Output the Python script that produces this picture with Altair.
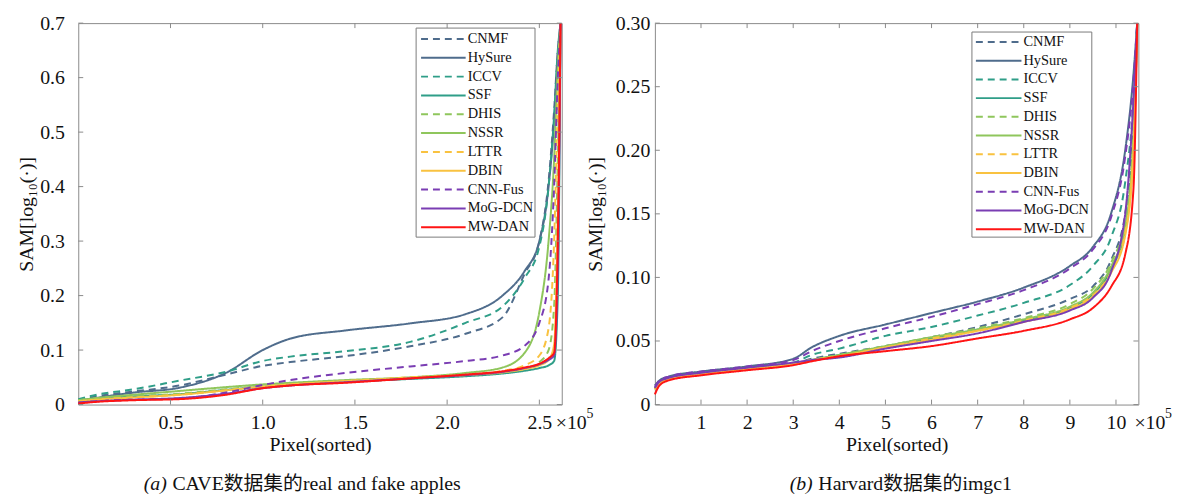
import altair as alt
import pandas as pd

METHODS = ["CNMF", "HySure", "ICCV", "SSF", "DHIS", "NSSR", "LTTR", "DBIN", "CNN-Fus", "MoG-DCN", "MW-DAN"]
COLORS = ["#4f6c8c", "#4f6c8c", "#2f9e88", "#2f9e88", "#8fc65c", "#8fc65c",
          "#f9c240", "#f9c240", "#7a3db3", "#7a3db3", "#ff1414"]
DASHES = [[7, 5], [1, 0], [7, 5], [1, 0], [7, 5], [1, 0], [7, 5], [1, 0], [7, 5], [1, 0], [1, 0]]
WIDTHS = [2, 2, 2, 2, 2, 2, 2, 2, 2, 2, 3]

# ---- panel (a): CAVE, x in units of 1e5 pixels ----
X_A = [0, 0.1, 0.3, 0.55, 0.8, 1.0, 1.15, 1.45, 1.8, 2.1, 2.3, 2.42, 2.5, 2.55, 2.58, 2.6, 2.615]
A_VALUES = {
    "CNMF":    [0.008, 0.015, 0.024, 0.035, 0.055, 0.071, 0.078, 0.089, 0.107, 0.130, 0.160, 0.240, 0.300, 0.410, 0.540, 0.650, 0.700],
    "HySure":  [0.005, 0.012, 0.022, 0.031, 0.058, 0.100, 0.121, 0.136, 0.149, 0.166, 0.200, 0.245, 0.300, 0.400, 0.520, 0.640, 0.700],
    "ICCV":    [0.010, 0.018, 0.028, 0.044, 0.060, 0.080, 0.088, 0.098, 0.115, 0.150, 0.180, 0.232, 0.290, 0.400, 0.530, 0.650, 0.700],
    "SSF":     [0.008, 0.011, 0.015, 0.019, 0.027, 0.033, 0.037, 0.042, 0.047, 0.052, 0.057, 0.062, 0.067, 0.072, 0.080, 0.200, 0.700],
    "DHIS":    [0.008, 0.011, 0.015, 0.020, 0.028, 0.034, 0.038, 0.043, 0.049, 0.054, 0.060, 0.066, 0.078, 0.100, 0.180, 0.450, 0.700],
    "NSSR":    [0.008, 0.012, 0.018, 0.025, 0.032, 0.037, 0.040, 0.045, 0.050, 0.058, 0.068, 0.095, 0.170, 0.300, 0.450, 0.620, 0.700],
    "LTTR":    [0.006, 0.009, 0.013, 0.018, 0.026, 0.033, 0.037, 0.043, 0.050, 0.055, 0.062, 0.072, 0.090, 0.140, 0.300, 0.550, 0.700],
    "DBIN":    [0.006, 0.009, 0.013, 0.018, 0.026, 0.033, 0.037, 0.043, 0.049, 0.054, 0.059, 0.065, 0.072, 0.082, 0.110, 0.350, 0.700],
    "CNN-Fus": [0.003, 0.006, 0.009, 0.011, 0.022, 0.036, 0.045, 0.058, 0.070, 0.080, 0.090, 0.108, 0.150, 0.230, 0.400, 0.600, 0.700],
    "MoG-DCN": [0.004, 0.006, 0.009, 0.012, 0.020, 0.030, 0.035, 0.041, 0.048, 0.054, 0.060, 0.067, 0.074, 0.082, 0.090, 0.250, 0.700],
    "MW-DAN":  [0.002, 0.005, 0.008, 0.010, 0.018, 0.030, 0.035, 0.040, 0.048, 0.055, 0.061, 0.068, 0.075, 0.085, 0.095, 0.300, 0.700],
}
XT_A = [0.5, 1.0, 1.5, 2.0, 2.5]
YT_A = [0, 0.1, 0.2, 0.3, 0.4, 0.5, 0.6, 0.7]

# ---- panel (b): Harvard, x in units of 1e5 pixels ----
X_B = [0, 0.1, 0.3, 1, 2, 3, 3.4, 4, 5, 6, 7, 8, 9, 9.5, 9.9, 10.2, 10.38, 10.46]
B_VALUES = {
    "CNMF":    [0.013, 0.017, 0.020, 0.024, 0.028, 0.032, 0.036, 0.040, 0.046, 0.053, 0.061, 0.071, 0.083, 0.093, 0.114, 0.150, 0.225, 0.300],
    "HySure":  [0.015, 0.019, 0.022, 0.026, 0.030, 0.036, 0.045, 0.054, 0.063, 0.072, 0.081, 0.092, 0.109, 0.124, 0.151, 0.200, 0.260, 0.300],
    "ICCV":    [0.013, 0.018, 0.021, 0.025, 0.029, 0.033, 0.039, 0.044, 0.054, 0.061, 0.070, 0.080, 0.094, 0.109, 0.132, 0.175, 0.240, 0.300],
    "SSF":     [0.012, 0.017, 0.020, 0.024, 0.028, 0.032, 0.035, 0.039, 0.045, 0.052, 0.059, 0.066, 0.076, 0.087, 0.107, 0.138, 0.205, 0.300],
    "DHIS":    [0.012, 0.017, 0.020, 0.024, 0.028, 0.032, 0.035, 0.039, 0.046, 0.053, 0.060, 0.068, 0.079, 0.091, 0.112, 0.145, 0.215, 0.300],
    "NSSR":    [0.012, 0.017, 0.020, 0.024, 0.028, 0.032, 0.035, 0.039, 0.046, 0.053, 0.059, 0.067, 0.077, 0.088, 0.109, 0.140, 0.210, 0.300],
    "LTTR":    [0.012, 0.017, 0.020, 0.024, 0.028, 0.032, 0.035, 0.038, 0.045, 0.052, 0.058, 0.066, 0.076, 0.086, 0.105, 0.135, 0.200, 0.300],
    "DBIN":    [0.012, 0.017, 0.020, 0.024, 0.028, 0.032, 0.035, 0.038, 0.045, 0.051, 0.058, 0.065, 0.075, 0.085, 0.104, 0.133, 0.200, 0.300],
    "CNN-Fus": [0.014, 0.019, 0.022, 0.026, 0.030, 0.035, 0.042, 0.050, 0.060, 0.069, 0.079, 0.090, 0.107, 0.122, 0.148, 0.195, 0.255, 0.300],
    "MoG-DCN": [0.013, 0.018, 0.021, 0.025, 0.029, 0.033, 0.035, 0.037, 0.044, 0.050, 0.056, 0.065, 0.074, 0.084, 0.105, 0.150, 0.240, 0.300],
    "MW-DAN":  [0.008, 0.015, 0.019, 0.023, 0.027, 0.031, 0.034, 0.038, 0.042, 0.046, 0.052, 0.058, 0.067, 0.076, 0.093, 0.118, 0.170, 0.300],
}
XT_B = [1, 2, 3, 4, 5, 6, 7, 8, 9, 10]
YT_B = [0, 0.05, 0.10, 0.15, 0.20, 0.25, 0.30]

W, H = 488, 385
SERIF = "Liberation Serif, Noto Sans CJK SC"
FRAME = "#8a8a8a"
TXT = "#111111"
TICK = 5


def long_df(xs, values):
    rows = []
    for m in METHODS:
        for x, y in zip(xs, values[m]):
            rows.append({"method": m, "x": x, "y": y})
    return pd.DataFrame(rows)


def panel(xs, values, xdom, ydom, xt, yt, xfmt, yexpr, ylabpad, ytitlepad,
          box, sym, lab_x, rows, cap_tag, cap_text, cap_x, cap_text_x, exp_x):
    df = long_df(xs, values)
    xs_ = alt.Scale(domain=xdom, nice=False, zero=False)
    ys_ = alt.Scale(domain=ydom, nice=False, zero=False)
    ax_x = alt.Axis(values=xt, format=xfmt, ticks=False, domain=False, grid=False,
                    labelPadding=8, titlePadding=2)
    ax_y = alt.Axis(values=yt, labelExpr=yexpr, ticks=False, domain=False, grid=False,
                    labelPadding=ylabpad, titlePadding=ytitlepad)
    xenc = alt.X("x:Q", scale=xs_, title="Pixel(sorted)", axis=ax_x)
    yenc = alt.Y("y:Q", scale=ys_, title="SAM[log₁₀(·)]", axis=ax_y)
    cenc = alt.Color("method:N", scale=alt.Scale(domain=METHODS, range=COLORS), legend=None)
    denc = alt.StrokeDash("method:N", scale=alt.Scale(domain=METHODS, range=DASHES), legend=None)
    wenc = alt.StrokeWidth("method:N", scale=alt.Scale(domain=METHODS, range=WIDTHS), legend=None)

    lines = alt.Chart(df).mark_line(interpolate="monotone").encode(
        x=xenc, y=yenc, color=cenc, strokeDash=denc, strokeWidth=wenc)
    xt_df = pd.DataFrame({"x": xt})
    yt_df = pd.DataFrame({"y": yt})
    bx = alt.Chart(xt_df).mark_rule(color=FRAME, strokeWidth=1).encode(
        x=xenc, y=alt.value(H), y2=alt.value(H - TICK))
    tx = alt.Chart(xt_df).mark_rule(color=FRAME, strokeWidth=1).encode(
        x=xenc, y=alt.value(0), y2=alt.value(TICK))
    ly = alt.Chart(yt_df).mark_rule(color=FRAME, strokeWidth=1).encode(
        y=yenc, x=alt.value(0), x2=alt.value(TICK))
    ry = alt.Chart(yt_df).mark_rule(color=FRAME, strokeWidth=1).encode(
        y=yenc, x=alt.value(W), x2=alt.value(W - TICK))
    inner = alt.layer(lines, bx, tx, ly, ry)

    # legend drawn inside the plot (top-right)
    one = pd.DataFrame({"t": [""]})
    leg_df = pd.DataFrame({"method": METHODS})
    rowenc = alt.Y("method:N", scale=alt.Scale(type="point", domain=METHODS, range=list(rows), padding=0),
                   axis=None)
    leg_box = alt.Chart(one).mark_rect(fill="white", stroke="#7a7a7a", strokeWidth=1).encode(
        x=alt.value(box[0]), x2=alt.value(box[1]), y=alt.value(box[2]), y2=alt.value(box[3]))
    leg_lines = alt.Chart(leg_df).mark_rule().encode(
        y=rowenc, x=alt.value(sym[0]), x2=alt.value(sym[1]),
        color=cenc, strokeDash=denc, strokeWidth=wenc)
    leg_text = alt.Chart(leg_df).mark_text(font=SERIF, fontSize=14.5, align="left",
                                           baseline="middle", color=TXT).encode(
        y=rowenc, x=alt.value(lab_x), text="method:N")

    exp1 = alt.Chart(pd.DataFrame({"t": ["×10"]})).mark_text(
        font=SERIF, fontSize=20, align="left", baseline="middle", color=TXT).encode(
        text="t:N", x=alt.value(exp_x), y=alt.value(H + 19))
    exp2 = alt.Chart(pd.DataFrame({"t": ["5"]})).mark_text(
        font=SERIF, fontSize=14, align="left", baseline="middle", color=TXT).encode(
        text="t:N", x=alt.value(exp_x + 31), y=alt.value(H + 10))
    cap1 = alt.Chart(pd.DataFrame({"t": [cap_tag]})).mark_text(
        font=SERIF, fontSize=20, fontStyle="italic", align="left", baseline="middle", color=TXT).encode(
        text="t:N", x=alt.value(cap_x), y=alt.value(H + 80))
    cap2 = alt.Chart(pd.DataFrame({"t": [cap_text]})).mark_text(
        font=SERIF, fontSize=20, align="left", baseline="middle", color=TXT).encode(
        text="t:N", x=alt.value(cap_text_x), y=alt.value(H + 80))
    return alt.layer(inner, leg_box, leg_lines, leg_text, exp1, exp2, cap1, cap2).resolve_scale(
        y="independent").properties(width=W, height=H)


left = panel(X_A, A_VALUES, [0, 2.62144], [0, 0.7], XT_A, YT_A, ".1f",
             "datum.value == 0 ? '0' : format(datum.value, '.1f')", 14, 3,
             (341, 461, 5, 216), (346, 391), 393, (16, 206),
             "(a)", "CAVE数据集的real and fake apples", 66, 95, 482)
right = panel(X_B, B_VALUES, [0, 10.48576], [0, 0.3], XT_B, YT_B, "d",
              "datum.value == 0 ? '0' : format(datum.value, '.2f')", 5, 10,
              (320, 441, 9, 216), (324, 370), 372, (19, 208),
              "(b)", "Harvard数据集的imgc1", 136, 165, 484)

chart = alt.hconcat(left, right, spacing=94, bounds="flush").properties(
    padding={"left": 16, "top": 10, "right": 5, "bottom": 5},
    background="white",
).configure_view(
    stroke=FRAME, strokeWidth=1
).configure_axis(
    labelFont=SERIF, labelFontSize=20, labelColor=TXT,
    titleFont=SERIF, titleFontSize=20, titleFontWeight="normal", titleColor=TXT,
)

chart.save("out.html", embed_options={"renderer": "svg", "actions": False})
